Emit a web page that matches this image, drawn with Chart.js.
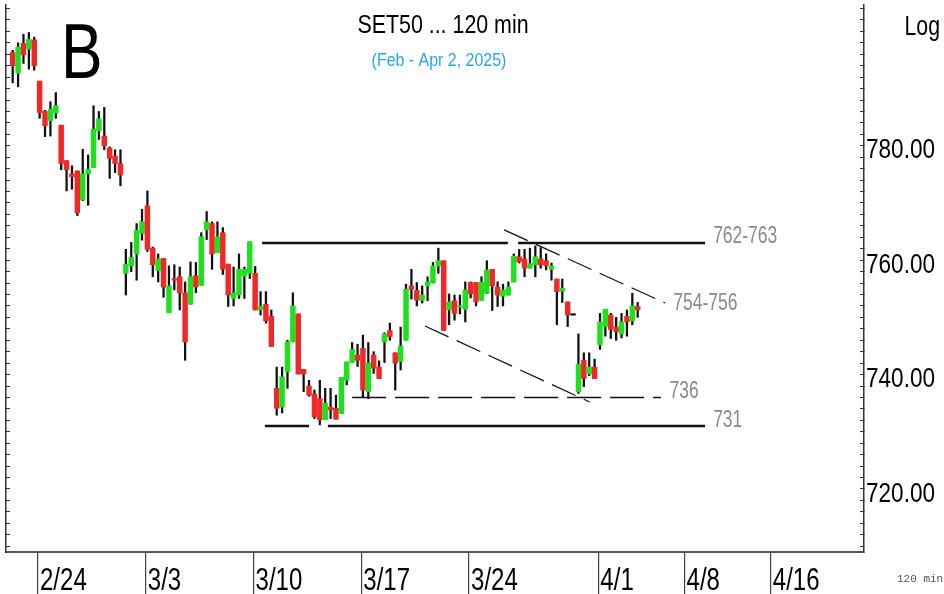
<!DOCTYPE html>
<html>
<head>
<meta charset="utf-8">
<script src="https://cdn.jsdelivr.net/npm/chart.js@4.4.1/dist/chart.umd.min.js"></script>
<style>
  html, body { margin: 0; padding: 0; background: #fff; }
</style>
</head>
<body>
<canvas id="set50" width="944" height="594"></canvas>
<script>
// 120-min bars, SET50, Feb - Apr 2 2025
const opens  = [796.3,792.7,797.9,796.9,798.5,791.3,786.0,784.4,785.7,783.6,
                777.4,775.1,775.6,770.5,775.1,776.2,782.6,781.7,779.6,778.2,
                776.9,757.7,759.0,761.1,764.7,769.5,762.1,758.2,760.3,750.8,
                756.7,757.1,754.3,752.3,757.3,755.6,765.3,766.4,761.3,764.8,
                759.3,753.3,753.9,757.2,757.7,757.7,751.3,752.3,750.2,737.6,
                734.3,740.5,745.7,750.6,740.9,738.0,736.6,735.8,732.1,734.3,
                734.1,733.2,739.0,742.1,743.4,744.6,737.0,743.4,741.3,745.7,
                747.7,743.8,742.3,746.0,755.5,754.7,753.0,755.5,756.0,759.0,
                759.9,751.3,752.9,751.8,751.4,756.1,756.1,753.0,754.2,758.4,
                755.3,753.7,753.9,756.2,760.6,760.2,758.6,759.2,760.2,759.9,
                758.4,756.7,754.6,752.7,750.4,737.0,742.5,740.1,741.3,745.2,
                748.4,750.4,748.3,747.1,750.2,749.4,751.9];
const highs  = [796.7,798.0,799.5,799.8,799.0,791.3,786.2,787.7,789.3,783.6,
                777.4,776.5,775.6,779.4,778.4,787.0,786.0,786.7,779.8,779.3,
                779.3,761.9,763.1,766.4,768.9,772.1,762.3,761.1,760.3,759.0,
                759.2,758.8,756.2,759.7,759.6,764.8,768.5,766.7,766.7,765.7,
                759.3,758.8,761.1,758.8,763.2,758.9,754.5,754.5,751.3,741.3,
                741.3,746.0,754.3,750.6,740.9,739.0,737.3,739.0,737.6,737.6,
                736.4,739.5,742.2,745.6,745.3,746.9,745.6,744.0,742.4,747.3,
                749.0,743.8,748.3,755.8,758.4,756.1,755.5,757.1,759.6,762.1,
                759.9,754.1,753.9,753.9,756.2,756.2,756.1,757.1,759.9,758.4,
                756.2,755.8,756.2,761.1,761.9,761.9,762.1,762.5,762.2,761.1,
                759.5,756.7,756.7,752.7,750.4,747.1,743.8,743.8,742.7,750.7,
                751.4,750.7,750.0,750.7,751.3,754.2,752.6];
const lows   = [791.0,790.3,794.4,793.4,793.2,784.8,781.6,781.7,784.8,775.8,
                772.1,772.4,767.8,770.4,769.6,776.2,781.1,779.3,774.3,775.3,
                773.0,753.9,758.0,756.5,763.5,761.5,757.1,756.2,753.5,750.8,
                754.8,751.3,742.5,752.3,754.3,755.6,763.6,758.4,761.3,757.5,
                751.9,752.0,753.3,753.3,756.8,751.3,750.4,749.0,744.9,732.9,
                733.3,737.6,745.7,740.1,737.0,736.2,732.3,731.2,732.1,732.3,
                732.2,733.2,738.2,742.1,741.4,736.0,735.8,740.2,739.3,742.1,
                746.0,737.3,740.8,746.0,753.2,752.0,752.5,752.9,756.0,757.7,
                747.7,748.7,749.5,750.6,749.2,753.4,752.0,753.0,754.2,751.2,
                751.9,752.0,753.9,756.2,759.5,757.1,758.6,757.1,758.6,758.3,
                756.5,748.7,752.6,748.4,750.4,736.7,737.9,739.8,739.3,744.4,
                746.7,746.3,746.0,746.4,746.7,748.7,750.0];
const closes = [794.0,797.3,795.9,798.6,794.0,785.8,783.5,786.4,787.0,776.9,
                775.8,774.6,768.3,775.1,775.9,782.9,784.7,780.0,777.8,776.9,
                774.9,759.3,760.5,765.2,766.7,761.9,759.2,760.2,755.3,755.5,
                756.5,754.3,745.7,757.1,755.3,764.1,766.7,761.1,764.1,758.4,
                753.9,754.3,758.4,758.4,763.2,751.3,751.9,749.4,744.9,734.1,
                739.6,745.7,752.0,740.1,740.1,736.4,732.6,732.1,735.0,733.8,
                732.2,739.5,742.2,744.4,742.5,737.3,742.0,741.1,739.3,747.1,
                746.6,742.0,745.0,754.9,754.9,753.0,753.9,756.2,759.0,759.9,
                747.7,752.7,750.7,752.0,754.8,754.1,752.7,756.2,758.3,755.5,
                753.9,754.8,755.3,760.7,759.7,758.6,759.4,760.6,759.2,759.0,
                759.0,754.5,755.1,750.4,750.4,741.8,739.3,741.3,739.3,749.2,
                751.4,747.9,747.5,749.2,749.2,752.0,751.3];

// x axis: first bar of each labelled week
const dateLabels = ['2/24', '3/3', '3/10', '3/17', '3/24', '4/1', '4/8', '4/16'];
const dateBars = [5, 25, 45, 65, 85, 109, 125, 141];

// price axis labels
const priceLabels = [720, 740, 760, 780];

// drawn levels
const resistance = 763;
const support = 731;
const pivot = 736;

const UP = '#1fe01f', DOWN = '#f02828', FLAT = '#111';
const SANS = '"Liberation Sans", Arial, sans-serif';

const bodyData = opens.map((o, i) => ({ x: i, y: [o, closes[i]] }));
const wickData = lows.map((l, i) => ({ x: i, y: [l, highs[i]] }));
const bodyColors = opens.map((o, i) => closes[i] > o ? UP : (closes[i] < o ? DOWN : FLAT));

function levelLine(y, pieces) {
  const pts = [];
  pieces.forEach((p, k) => {
    if (k > 0) pts.push({ x: p[0], y: null });
    pts.push({ x: p[0], y: y }, { x: p[1], y: y });
  });
  return pts;
}

const lineStyle = { type: 'line', borderColor: '#111', pointRadius: 0, fill: false, spanGaps: false, order: 3 };

// labels next to the levels, placed in data coordinates
const notes = [
  { text: '762-763', x: 130.0, y: 763.0 },
  { text: '754-756', x: 122.6, y: 751.3 },
  { text: '736',     x: 121.9, y: 735.9 },
  { text: '731',     x: 130.0, y: 730.8 }
];

// the picture uses a narrow face; squeeze Liberation Sans horizontally
function narrowText(ctx, text, x, y, size, squeeze, align, baseline) {
  ctx.save();
  ctx.translate(x, y);
  ctx.scale(squeeze, 1);
  ctx.font = size + 'px ' + SANS;
  ctx.textAlign = align || 'left';
  ctx.textBaseline = baseline || 'alphabetic';
  ctx.fillText(text, 0, 0);
  ctx.restore();
}

const textPlugin = {
  id: 'texts',
  afterDraw(chart) {
    const { ctx, scales } = chart;
    const x = scales.x, y = scales.y;
    ctx.save();

    ctx.fillStyle = '#000';
    narrowText(ctx, 'B', 61, 78, 78, 0.8);
    narrowText(ctx, 'SET50 ... 120 min', 443, 33, 25, 0.855, 'center');
    ctx.fillStyle = '#2aa5ea';
    narrowText(ctx, '(Feb - Apr 2, 2025)', 439, 66, 19, 0.84, 'center');

    ctx.fillStyle = '#000';
    narrowText(ctx, 'Log', 940, 35, 28, 0.76, 'right');

    // price labels on the right axis
    priceLabels.forEach(v => {
      narrowText(ctx, v.toFixed(2), y.left + 2, y.getPixelForValue(v) + 5, 28, 0.806, 'left', 'middle');
    });
    // date labels beside each week tick
    dateLabels.forEach((t, i) => {
      narrowText(ctx, t, x.getPixelForValue(dateBars[i] - 0.3) + 2, 590, 32, 0.75);
    });

    ctx.fillStyle = '#555';
    ctx.font = '11px "Liberation Mono", "DejaVu Sans Mono", monospace';
    ctx.textAlign = 'left';
    ctx.textBaseline = 'alphabetic';
    ctx.fillText('120 min', 897, 582);

    ctx.fillStyle = '#8a8a8a';
    notes.forEach(n => narrowText(ctx, n.text, x.getPixelForValue(n.x), y.getPixelForValue(n.y), 23, 0.76));
    ctx.restore();
  }
};

function minorTicks(scale) {
  const t = [];
  for (let v = 710; v <= 804; v += 2) t.push({ value: v });
  scale.ticks = t;
}

function noPad(s) {
  s.paddingTop = 0;
  s.paddingBottom = 0;
  s.paddingLeft = 0;
  s.paddingRight = 0;
}

const ctx = document.getElementById('set50').getContext('2d');
new Chart(ctx, {
  data: {
    datasets: [
      { type: 'bar', data: bodyData, backgroundColor: bodyColors, barThickness: 4.8,
        minBarLength: 1.4, grouped: false, order: 1, xAxisID: 'x', yAxisID: 'y' },
      { type: 'bar', data: wickData, backgroundColor: '#111', barThickness: 1.6,
        grouped: false, order: 2, xAxisID: 'x', yAxisID: 'y' },
      Object.assign({}, lineStyle, { borderWidth: 2.4,
        data: levelLine(resistance, [[46.3, 91.9], [93.8, 128.5]]) }),
      Object.assign({}, lineStyle, { borderWidth: 2.4,
        data: levelLine(support, [[46.8, 55.0], [58.5, 128.5]]) }),
      Object.assign({}, lineStyle, { borderWidth: 1.4, borderDash: [34, 9],
        data: levelLine(pivot, [[63.0, 120.3]]) }),
      Object.assign({}, lineStyle, { borderWidth: 1.2, borderDash: [26, 9],
        data: [{ x: 91.2, y: 765.3 }, { x: 121.1, y: 752.5 }] }),
      Object.assign({}, lineStyle, { borderWidth: 1.2, borderDash: [26, 9],
        data: [{ x: 76.5, y: 748.5 }, { x: 107.1, y: 735.2 }] })
    ]
  },
  options: {
    responsive: false,
    animation: false,
    layout: { padding: { top: 5, left: 0, right: 0, bottom: 0 } },
    plugins: { legend: { display: false }, tooltip: { enabled: false } },
    scales: {
      x: {
        type: 'linear',
        position: 'bottom',
        min: -1.243,
        max: 158.0,
        offset: false,
        afterBuildTicks: s => { s.ticks = dateBars.map(n => ({ value: n - 0.3 })); },
        afterFit: s => { s.height = 42; noPad(s); },
        ticks: { display: false },
        grid: { drawOnChartArea: false, offset: false, tickLength: 42, color: '#444', lineWidth: 1.2 },
        border: { display: true, color: '#555', width: 2 }
      },
      y: {
        type: 'linear',
        position: 'right',
        min: 708.98,
        max: 804.61,
        afterBuildTicks: minorTicks,
        afterFit: s => { s.width = 80; noPad(s); },
        ticks: { display: false },
        grid: { drawOnChartArea: false, tickLength: -4, color: '#333', lineWidth: 1 },
        border: { display: true, color: '#333', width: 1.5 }
      },
      yL: {
        type: 'linear',
        position: 'left',
        min: 708.98,
        max: 804.61,
        afterBuildTicks: minorTicks,
        afterFit: s => { s.width = 6; noPad(s); },
        ticks: { display: false },
        grid: { drawOnChartArea: false, tickLength: -4, color: '#333', lineWidth: 1 },
        border: { display: true, color: '#333', width: 1.5 }
      }
    }
  },
  plugins: [textPlugin]
});
</script>
</body>
</html>
